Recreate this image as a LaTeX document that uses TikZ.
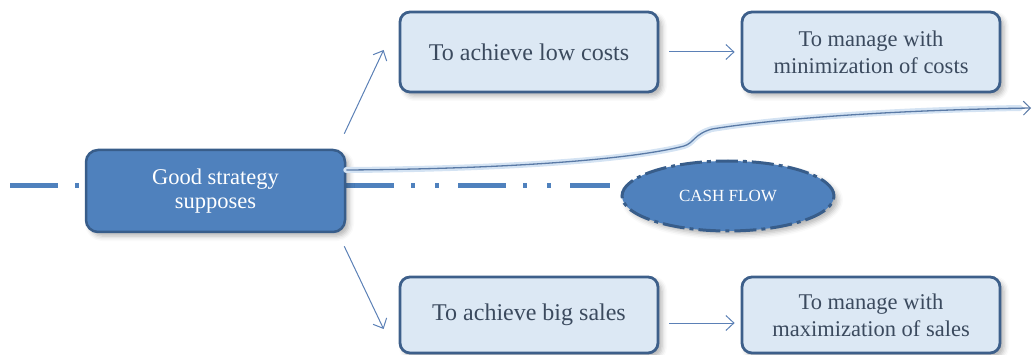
\documentclass[tikz,border=0pt]{standalone}
\usepackage{fontspec}
\setmainfont{Liberation Serif}
\usetikzlibrary{shapes.geometric,arrows.meta,calc,shadows.blur}

\definecolor{boxfill}{HTML}{DCE8F4}
\definecolor{boxline}{HTML}{3D5F8A}
\definecolor{boxtext}{HTML}{3B4A5E}
\definecolor{darkfill}{HTML}{4F81BD}
\definecolor{darkline}{HTML}{385D8A}
\definecolor{arrowcol}{HTML}{5B80B6}
\definecolor{glow}{HTML}{D4E3F3}
\definecolor{flowline}{HTML}{5A7AA6}

\tikzset{
  softshadow/.style={blur shadow={shadow xshift=4pt, shadow yshift=-4pt,
      shadow opacity=30, shadow blur radius=5pt}},
  lightbox/.style={draw=boxline, line width=2.8pt, fill=boxfill,
      rounded corners=10pt, minimum width=258pt, inner sep=0pt,
      text=boxtext, align=center, softshadow,
      font=\fontsize{22.5}{27}\selectfont},
  onelinebox/.style={lightbox, font=\fontsize{24}{28}\selectfont},
  darkbox/.style={draw=darkline, line width=2.5pt, fill=darkfill,
      rounded corners=12pt, minimum width=259pt, minimum height=82pt,
      inner sep=0pt, text=white, align=center, softshadow,
      font=\fontsize{22.5}{24}\selectfont},
  cashflow/.style={ellipse, draw=darkline, line width=3pt, fill=darkfill,
      dash pattern=on 22pt off 5pt on 4pt off 5pt,
      minimum width=212pt, minimum height=70pt, inner sep=0pt,
      text=white, softshadow, font=\fontsize{17}{20}\selectfont},
  link/.style={draw=arrowcol, line width=1pt,
      -{Straight Barb[length=8pt,width=15pt,line width=1pt]}},
  divider/.style={draw=darkfill, line width=5pt,
      dash pattern=on 48pt off 17pt on 4pt off 20pt on 4pt off 19pt},
}

\begin{document}
\begin{tikzpicture}[x=1pt,y=-1pt]
  \path[use as bounding box] (0,0) rectangle (1033,355);

  % dash-dot-dot divider running behind the central box
  \coordinate (dl) at (10,186);
  \coordinate (dr) at (610,186);
  \draw[divider] (dl) -- (dr);

  % boxes
  \node[darkbox] (g) at (215.5,191) {Good strategy\\supposes};
  \node[onelinebox, minimum height=80pt] (a1) at (529,52) {To achieve low costs};
  \node[lightbox, minimum height=80pt] (m1) at (871,52) {To manage with\\minimization of costs};
  \node[onelinebox, minimum height=76pt] (a2) at (529,315) {To achieve big sales};
  \node[lightbox, minimum height=76pt] (m2) at (871,315) {To manage with\\maximization of sales};
  \node[cashflow] (cf) at (728,196) {CASH FLOW};

  % branches out of the strategy box
  \draw[link] ($(g.north east)+(-2,-15)$) -- ($(a1.west)+(-15,-2)$);
  \draw[link] ($(g.south east)+(-2,13)$) -- ($(a2.west)+(-15,14)$);
  \draw[link] ($(a1.east)+(10,0)$) -- ($(m1.west)+(-6,0)$);
  \draw[link] ($(a2.east)+(10,8)$) -- ($(m2.west)+(-6,8)$);

  % long flow line from the strategy box to the right edge
  \coordinate (fs) at ($(g.east)+(0,-21)$);
  \coordinate (fe) at (1031,108);
  \draw[glow, line width=6pt, line cap=round]
    (fs) .. controls (500,169) and (630,160) .. (684,146)
         .. controls (694,143) and (694,134) .. (712,129)
         .. controls (780,118) and (900,110) .. (1020,108);
  \draw[flowline, line width=1.3pt,
        -{Straight Barb[length=7pt,width=14pt,line width=1pt]}]
    (fs) .. controls (500,169) and (630,160) .. (684,146)
         .. controls (694,143) and (694,134) .. (712,129)
         .. controls (780,118) and (900,110) .. (fe);
\end{tikzpicture}
\end{document}
